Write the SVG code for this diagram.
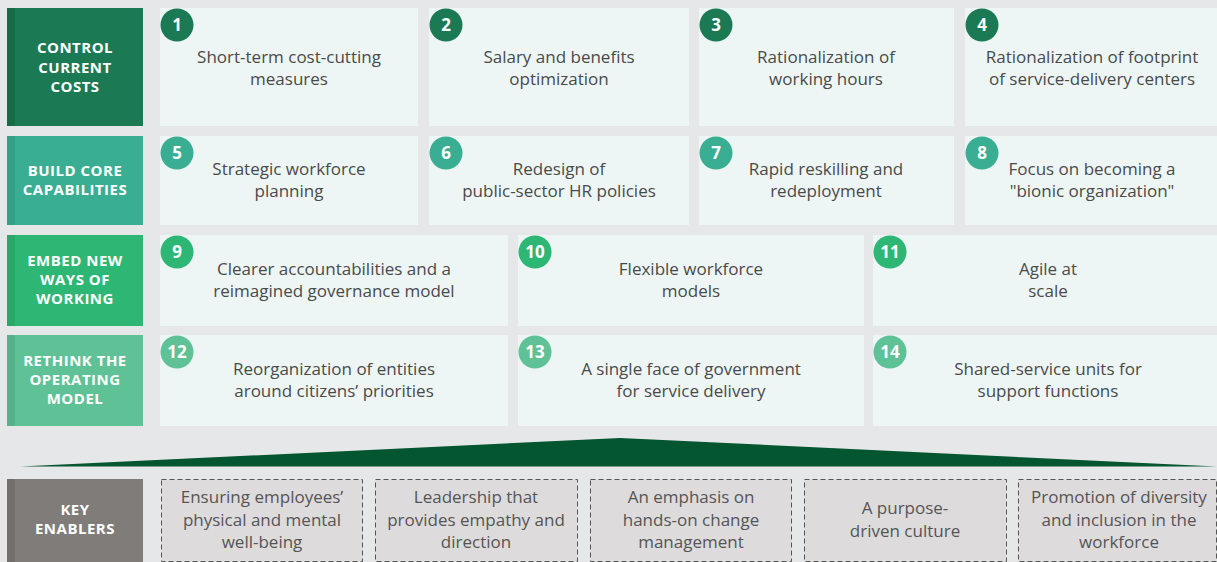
<svg xmlns="http://www.w3.org/2000/svg" width="1217" height="562" viewBox="0 0 1217 562">
<style>
.card{fill:#edf6f5}
.ct{font-family:"Open Sans","Liberation Sans",sans-serif;font-size:17px;fill:#4a4a4a;text-anchor:middle}
.lt{font-family:"Open Sans","Liberation Sans",sans-serif;font-size:15px;font-weight:700;fill:#ffffff;text-anchor:middle;letter-spacing:0.5px}
.nt{font-family:"Open Sans","Liberation Sans",sans-serif;font-size:17px;font-weight:700;fill:#ffffff;text-anchor:middle}
.en{fill:#dddbdc;stroke:#555;stroke-width:1;stroke-dasharray:5 3}
.et{font-family:"Open Sans","Liberation Sans",sans-serif;font-size:17px;fill:#555555;text-anchor:middle}
.c1{fill:#1b7a53}.c2{fill:#3aae92}.c3{fill:#2eb674}.c4{fill:#5fc196}
</style>
<rect width="1217" height="562" fill="#e6e7e8"/>

<g id="label-control">
<rect x="7" y="8" width="136" height="118" class="c1"/><rect x="7" y="8" width="8" height="118" fill="#176c48"/>
<text class="lt"><tspan x="75" y="53">CONTROL</tspan><tspan x="75" y="73">CURRENT</tspan><tspan x="75" y="92">COSTS</tspan></text>
</g>
<g id="label-build">
<rect x="7" y="136" width="136" height="89" class="c2"/><rect x="7" y="136" width="8" height="89" fill="#34a085"/>
<text class="lt"><tspan x="75" y="176">BUILD CORE</tspan><tspan x="75" y="195">CAPABILITIES</tspan></text>
</g>
<g id="label-embed">
<rect x="7" y="235" width="136" height="91" class="c3"/><rect x="7" y="235" width="8" height="91" fill="#2aa86a"/>
<text class="lt"><tspan x="75" y="266">EMBED NEW</tspan><tspan x="75" y="285">WAYS OF</tspan><tspan x="75" y="304">WORKING</tspan></text>
</g>
<g id="label-rethink">
<rect x="7" y="335" width="136" height="91" class="c4"/><rect x="7" y="335" width="8" height="91" fill="#57b18a"/>
<text class="lt"><tspan x="75" y="366">RETHINK THE</tspan><tspan x="75" y="385">OPERATING</tspan><tspan x="75" y="404">MODEL</tspan></text>
</g>

<g id="card1"><rect class="card" x="160" y="8" width="258" height="118"/><circle class="c1" cx="177" cy="25" r="16.5"/><text class="nt" x="177" y="31">1</text>
<text class="ct"><tspan x="289" y="63">Short-term cost-cutting</tspan><tspan x="289" y="85">measures</tspan></text></g>
<g id="card2"><rect class="card" x="429" y="8" width="260" height="118"/><circle class="c1" cx="446" cy="25" r="16.5"/><text class="nt" x="446" y="31">2</text>
<text class="ct"><tspan x="559" y="63">Salary and benefits</tspan><tspan x="559" y="85">optimization</tspan></text></g>
<g id="card3"><rect class="card" x="699" y="8" width="255" height="118"/><circle class="c1" cx="716" cy="25" r="16.5"/><text class="nt" x="716" y="31">3</text>
<text class="ct"><tspan x="826" y="63">Rationalization of</tspan><tspan x="826" y="85">working hours</tspan></text></g>
<g id="card4"><rect class="card" x="965" y="8" width="252" height="118"/><circle class="c1" cx="982" cy="25" r="16.5"/><text class="nt" x="982" y="31">4</text>
<text class="ct"><tspan x="1092" y="63">Rationalization of footprint</tspan><tspan x="1092" y="85">of service-delivery centers</tspan></text></g>

<g id="card5"><rect class="card" x="160" y="136" width="258" height="89"/><circle class="c2" cx="177" cy="153" r="16.5"/><text class="nt" x="177" y="159">5</text>
<text class="ct"><tspan x="289" y="175">Strategic workforce</tspan><tspan x="289" y="197">planning</tspan></text></g>
<g id="card6"><rect class="card" x="429" y="136" width="260" height="89"/><circle class="c2" cx="446" cy="153" r="16.5"/><text class="nt" x="446" y="159">6</text>
<text class="ct"><tspan x="559" y="175">Redesign of</tspan><tspan x="559" y="197">public-sector HR policies</tspan></text></g>
<g id="card7"><rect class="card" x="699" y="136" width="255" height="89"/><circle class="c2" cx="716" cy="153" r="16.5"/><text class="nt" x="716" y="159">7</text>
<text class="ct"><tspan x="826" y="175">Rapid reskilling and</tspan><tspan x="826" y="197">redeployment</tspan></text></g>
<g id="card8"><rect class="card" x="965" y="136" width="252" height="89"/><circle class="c2" cx="982" cy="153" r="16.5"/><text class="nt" x="982" y="159">8</text>
<text class="ct"><tspan x="1092" y="175">Focus on becoming a</tspan><tspan x="1092" y="197">"bionic organization"</tspan></text></g>

<g id="card9"><rect class="card" x="160" y="235" width="348" height="91"/><circle class="c3" cx="177" cy="252" r="16.5"/><text class="nt" x="177" y="258">9</text>
<text class="ct"><tspan x="334" y="275">Clearer accountabilities and a</tspan><tspan x="334" y="297">reimagined governance model</tspan></text></g>
<g id="card10"><rect class="card" x="518" y="235" width="346" height="91"/><circle class="c3" cx="535" cy="252" r="16.5"/><text class="nt" x="535" y="258">10</text>
<text class="ct"><tspan x="691" y="275">Flexible workforce</tspan><tspan x="691" y="297">models</tspan></text></g>
<g id="card11"><rect class="card" x="873" y="235" width="344" height="91"/><circle class="c3" cx="890" cy="252" r="16.5"/><text class="nt" x="890" y="258">11</text>
<text class="ct"><tspan x="1048" y="275">Agile at</tspan><tspan x="1048" y="297">scale</tspan></text></g>

<g id="card12"><rect class="card" x="160" y="335" width="348" height="91"/><circle class="c4" cx="177" cy="352" r="16.5"/><text class="nt" x="177" y="358">12</text>
<text class="ct"><tspan x="334" y="375">Reorganization of entities</tspan><tspan x="334" y="397">around citizens’ priorities</tspan></text></g>
<g id="card13"><rect class="card" x="518" y="335" width="346" height="91"/><circle class="c4" cx="535" cy="352" r="16.5"/><text class="nt" x="535" y="358">13</text>
<text class="ct"><tspan x="691" y="375">A single face of government</tspan><tspan x="691" y="397">for service delivery</tspan></text></g>
<g id="card14"><rect class="card" x="873" y="335" width="344" height="91"/><circle class="c4" cx="890" cy="352" r="16.5"/><text class="nt" x="890" y="358">14</text>
<text class="ct"><tspan x="1048" y="375">Shared-service units for</tspan><tspan x="1048" y="397">support functions</tspan></text></g>

<g id="base-triangle"><polygon points="20,466.5 620,438 1217,466.5" fill="#03562f"/></g>

<g id="label-enablers">
<rect x="7" y="479" width="136" height="83" fill="#7f7c7a"/><rect x="7" y="479" width="8" height="83" fill="#726f6d"/>
<text class="lt"><tspan x="75" y="515">KEY</tspan><tspan x="75" y="534">ENABLERS</tspan></text>
</g>
<g id="enabler1"><rect class="en" x="161.5" y="479.5" width="201" height="82"/>
<text class="et"><tspan x="262" y="503">Ensuring employees’</tspan><tspan x="262" y="526">physical and mental</tspan><tspan x="262" y="548">well-being</tspan></text></g>
<g id="enabler2"><rect class="en" x="375.5" y="479.5" width="202" height="82"/>
<text class="et"><tspan x="476" y="503">Leadership that</tspan><tspan x="476" y="526">provides empathy and</tspan><tspan x="476" y="548">direction</tspan></text></g>
<g id="enabler3"><rect class="en" x="590.5" y="479.5" width="201" height="82"/>
<text class="et"><tspan x="691" y="503">An emphasis on</tspan><tspan x="691" y="526">hands-on change</tspan><tspan x="691" y="548">management</tspan></text></g>
<g id="enabler4"><rect class="en" x="804.5" y="479.5" width="202" height="82"/>
<text class="et"><tspan x="905" y="514">A purpose-</tspan><tspan x="905" y="537">driven culture</tspan></text></g>
<g id="enabler5"><rect class="en" x="1018.5" y="479.5" width="198" height="82"/>
<text class="et"><tspan x="1119" y="503">Promotion of diversity</tspan><tspan x="1119" y="526">and inclusion in the</tspan><tspan x="1119" y="548">workforce</tspan></text></g>
</svg>
